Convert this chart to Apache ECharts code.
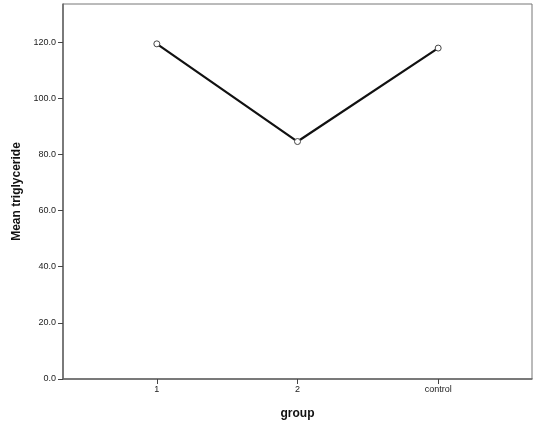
<!DOCTYPE html>
<html>
<head>
<meta charset="utf-8">
<script src="https://cdn.jsdelivr.net/npm/echarts@6/dist/echarts.min.js"></script>
<style>
html, body { margin: 0; padding: 0; background: #fff; }
#main { width: 539px; height: 432px; }
</style>
</head>
<body>
<div id="main"></div>
<script>
// categories and means
var groups = ['1', '2', 'control'];
var meanTg = [119.4, 84.6, 117.9];
var yTicks = [0, 20, 40, 60, 80, 100, 120];

var myChart = echarts.init(document.getElementById('main'));
var pts = [];
for (var i = 0; i < groups.length; i++) {
	pts.push([i, meanTg[i]]);
}
var font = 'Liberation Sans, Arial, sans-serif';

myChart.setOption({
	animation: false,
	grid: {
		left: 63, right: 7, top: 4, bottom: 53,
		show: true, borderColor: '#777', borderWidth: 1
	},
	xAxis: {
		type: 'value',
		min: -0.667, max: 2.667,
		name: 'group',
		nameLocation: 'middle',
		nameGap: 29,
		nameTextStyle: { fontFamily: font, fontSize: 12, fontWeight: 'bold', color: '#111' },
		splitLine: { show: false },
		axisLine: { show: true, onZero: false, lineStyle: { color: '#666', width: 1.5 } },
		axisTick: { show: true, customValues: [0, 1, 2], length: 5, lineStyle: { color: '#444' } },
		axisLabel: {
			customValues: [0, 1, 2],
			fontFamily: font, fontSize: 9, color: '#222', margin: 6,
			formatter: function (v) { return groups[Math.round(v)]; }
		}
	},
	yAxis: {
		type: 'value',
		min: 0, max: 133.6,
		name: 'Mean triglyceride',
		nameLocation: 'middle',
		nameGap: 35,
		nameTextStyle: { fontFamily: font, fontSize: 12, fontWeight: 'bold', color: '#111' },
		splitLine: { show: false },
		axisLine: { show: true, onZero: false, lineStyle: { color: '#666', width: 1.5 } },
		axisTick: { show: true, customValues: yTicks, length: 5, lineStyle: { color: '#444' } },
		axisLabel: {
			customValues: yTicks,
			fontFamily: font, fontSize: 9, color: '#222', margin: 7,
			formatter: function (v) { return v.toFixed(1); }
		}
	},
	series: [{
		type: 'line',
		data: pts,
		symbol: 'circle',
		symbolSize: 6,
		lineStyle: { color: '#111', width: 2.2 },
		itemStyle: { color: '#fff', borderColor: '#444', borderWidth: 1 }
	}]
});
</script>
</body>
</html>
